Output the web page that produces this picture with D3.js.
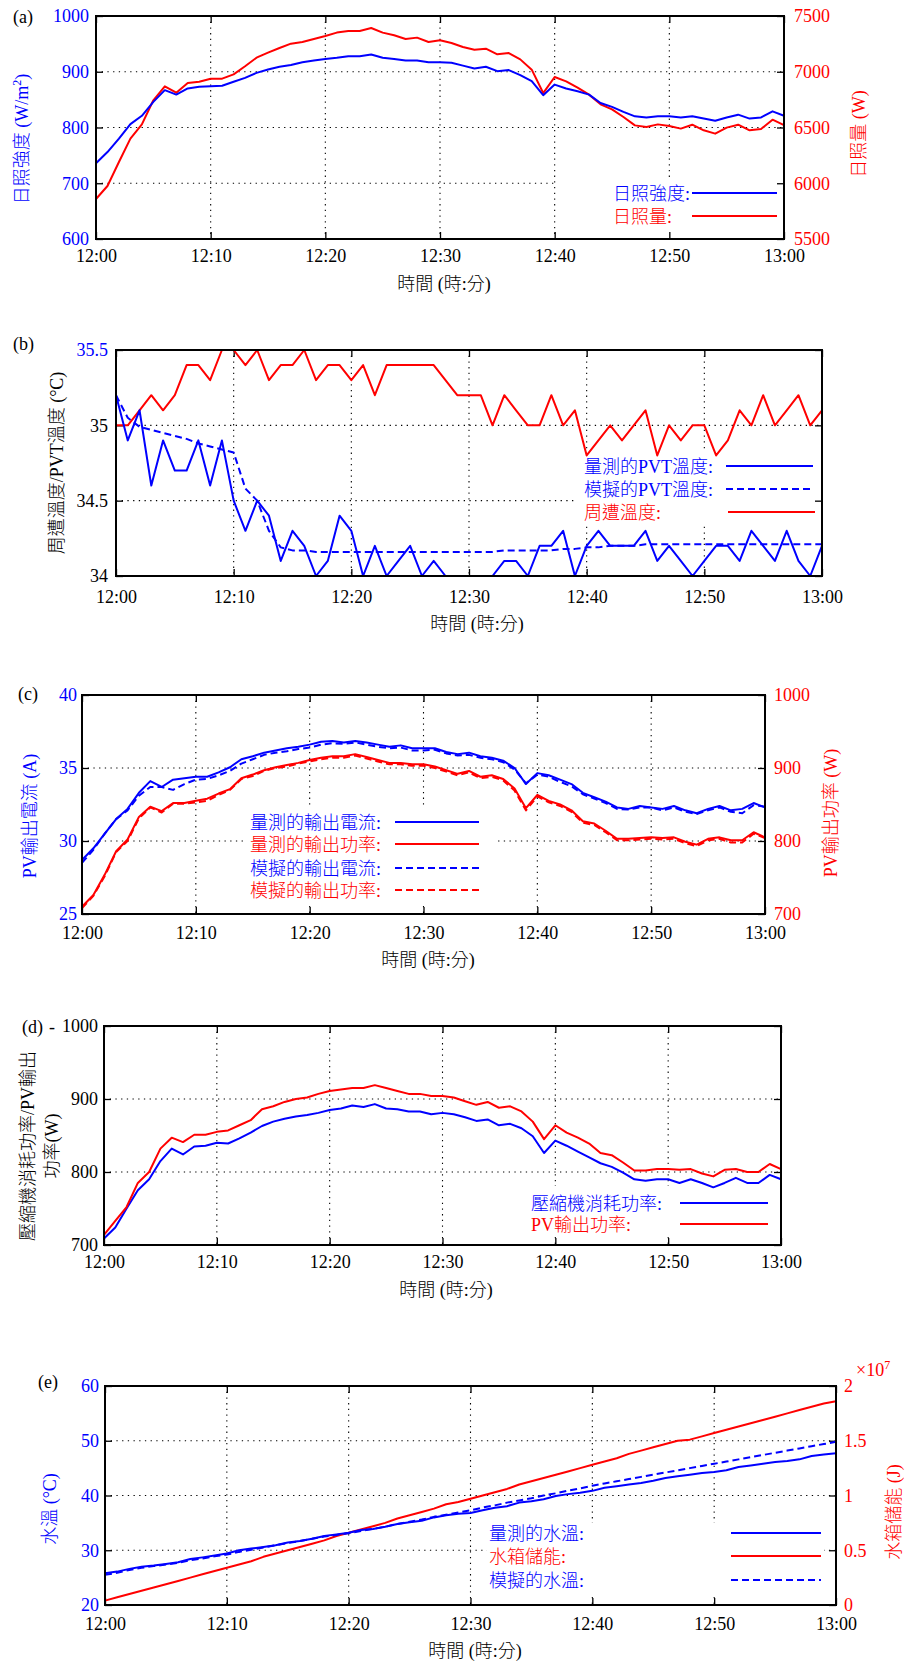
<!DOCTYPE html>
<html><head><meta charset="utf-8">
<script src="https://cdn.jsdelivr.net/npm/d3@7/dist/d3.min.js"></script>
<style>
body{margin:0;background:#fff}
svg text{font-family:"Liberation Serif","Noto Sans CJK TC","Noto Sans CJK SC",serif;font-weight:300;}
</style></head><body>
<svg id="c" width="908" height="1664"></svg>
<script>
// ---------- data ----------
const minutes = d3.range(0, 61);
const timeTickValues = [0, 10, 20, 30, 40, 50, 60];
const timeTickLabels = ["12:00","12:10","12:20","12:30","12:40","12:50","13:00"];

// (a)
const irradiance = [736,756,780,806,821,846,867,859,870,873,874,875,882,889,898,904,909,912,917,920,923,925,928,928,931,925,923,920,920,917,917,916,911,906,909,901,903,894,883,858,877,870,865,859,844,837,828,820,818,820,820,818,820,816,812,818,823,816,818,829,821];
const insolation = [5859,5975,6191,6400,6528,6744,6869,6812,6899,6911,6938,6938,6977,7049,7126,7171,7213,7252,7267,7294,7321,7351,7365,7365,7392,7351,7327,7294,7306,7267,7282,7258,7222,7198,7207,7156,7168,7111,7019,6809,6953,6914,6857,6794,6708,6663,6594,6519,6504,6528,6513,6490,6525,6475,6445,6499,6525,6475,6487,6570,6522];
const aLeftTicks = [600,700,800,900,1000];
const aRightTicks = [5500,6000,6500,7000,7500];

// (b)
const ambientTemp = [35.0,35.0,35.1,35.2,35.1,35.2,35.4,35.4,35.3,35.5, 35.5,35.4,35.5,35.3,35.4,35.4,35.5,35.3,35.4,35.4, 35.3,35.4,35.2,35.4,35.4,35.4,35.4,35.4,35.3,35.2, 35.2,35.2,35.0,35.2,35.1,35.0,35.0,35.2,35.0,35.1, 34.8,34.9,35.0,34.9,35.0,35.1,34.8,35.0,34.9,35.0, 35.0,34.8,34.9,35.1,35.0,35.2,35.0,35.1,35.2,35.0,35.1];
const pvtMeasured = [35.2,34.9,35.1,34.6,34.9,34.7,34.7,34.9,34.6,34.9, 34.5,34.3,34.5,34.4,34.1,34.3,34.2,34.0,34.1,34.4, 34.3,34.0,34.2,34.0,34.1,34.2,34.0,34.1,34.0,34.0, 34.0,34.0,34.0,34.1,34.1,34.0,34.2,34.2,34.3,34.0, 34.2,34.3,34.2,34.2,34.2,34.3,34.1,34.2,34.1,34.0, 34.1,34.2,34.2,34.1,34.3,34.2,34.1,34.3,34.1,34.0,34.2];
const pvtSimulated = [35.2,35.05,34.99,34.97,34.95,34.93,34.91,34.88,34.86,34.84, 34.82,34.58,34.5,34.3,34.19,34.17,34.17,34.16,34.16,34.16, 34.16,34.16,34.16,34.16,34.16,34.16,34.16,34.16,34.16,34.16, 34.16,34.16,34.16,34.17,34.17,34.17,34.17,34.17,34.18,34.18, 34.19,34.19,34.2,34.2,34.2,34.21,34.21,34.21,34.21,34.21, 34.21,34.21,34.21,34.21,34.21,34.21,34.21,34.21,34.21,34.21,34.21];
const bTicks = [34, 34.5, 35, 35.5];

// (c)
const currentMeasured = [28.7,29.5,30.5,31.5,32.2,33.3,34.1,33.7,34.2,34.3, 34.4,34.4,34.7,35.05,35.6,35.8,36.05,36.2,36.35,36.45, 36.6,36.8,36.85,36.75,36.85,36.75,36.6,36.45,36.55,36.35, 36.35,36.35,36.1,35.95,36.05,35.8,35.7,35.5,35.0,33.9, 34.65,34.5,34.2,33.9,33.3,33.0,32.7,32.3,32.2,32.4, 32.3,32.2,32.4,32.1,31.9,32.2,32.4,32.1,32.2,32.6,32.3];
const currentSimulated = [28.5,29.4,30.5,31.5,32.1,33.1,33.7,33.7,33.5,33.9, 34.2,34.25,34.5,34.8,35.3,35.6,35.9,36.05,36.15,36.3, 36.4,36.6,36.7,36.65,36.75,36.6,36.45,36.35,36.4,36.2, 36.2,36.25,36.0,35.85,35.9,35.7,35.6,35.4,34.9,33.95, 34.55,34.4,34.05,33.75,33.2,32.9,32.6,32.2,32.15,32.3, 32.3,32.1,32.3,32.0,31.85,32.1,32.3,32.0,31.9,32.45,32.35];
const powerMeasured = [710,726,754,786,802,833,847,841,852,852, 855,858,865,871,886,891,897,901,904,907, 911,914,916,916,919,915,911,907,907,905, 905,902,897,892,896,888,890,885,872,845, 863,855,850,842,827,824,814,803,803,804, 805,804,805,799,795,803,805,801,801,812,805];
const powerSimulated = [708,725,752,785,800,831,846,839,851,851, 853,855,863,870,885,889,896,900,902,906, 909,912,914,914,917,913,909,905,905,903, 903,900,895,890,894,886,888,883,869,842, 861,853,848,840,825,822,812,801,801,802, 803,802,803,797,793,801,803,798,798,810,804];
const cLeftTicks = [25,30,35,40];
const cRightTicks = [700,800,900,1000];

// (d)
const pvPower = [714,733,752,785,800,832,847,841,851,851, 855,857,864,871,886,890,896,900,902,907, 911,913,915,915,919,915,911,907,907,904, 904,902,897,892,896,888,890,883,869,845, 864,854,847,839,826,823,813,802,802,804, 804,803,804,798,794,803,804,800,800,811,804];
const compressorPower = [709,724,750,775,790,815,832,824,835,836, 840,839,846,854,863,869,873,876,878,881, 885,887,891,889,893,887,886,883,883,879, 881,879,875,870,872,864,866,860,849,826, 843,836,828,820,812,807,799,790,788,790, 790,785,790,785,779,785,792,785,785,796,790];
const dTicks = [700,800,900,1000];

// (e)
const waterMeasured = [25.8,26.1,26.6,27.0,27.2,27.5,27.8,28.4,28.7,29.05, 29.4,30.0,30.3,30.6,30.9,31.4,31.7,32.1,32.6,32.9, 33.2,33.7,33.9,34.3,34.8,35.1,35.4,36.0,36.4,36.65, 36.8,37.3,37.75,38.05,38.7,38.95,39.3,39.9,40.25,40.5, 40.85,41.4,41.7,42.0,42.3,42.7,43.2,43.5,43.8,44.1, 44.3,44.6,45.2,45.5,45.8,46.1,46.3,46.6,47.2,47.5,47.7];
const waterSimulated = [25.5,25.9,26.4,26.8,27.1,27.4,27.7,28.2,28.5,28.9, 29.2,29.7,30.1,30.5,30.9,31.3,31.7,32.1,32.5,32.8, 33.1,33.5,33.9,34.3,34.8,35.2,35.6,36.1,36.5,36.9, 37.3,37.8,38.2,38.7,39.1,39.5,40.0,40.4,40.9,41.3, 41.8,42.2,42.6,43.0,43.4,43.8,44.2,44.6,45.0,45.4, 45.8,46.2,46.6,47.0,47.4,47.8,48.2,48.6,49.0,49.4,49.8];
const tankEnergy = [0.04,0.07,0.10,0.13,0.16,0.19,0.22,0.25,0.28,0.31, 0.34,0.37,0.40,0.44,0.47,0.50,0.53,0.56,0.59,0.63, 0.66,0.69,0.72,0.75,0.79,0.82,0.85,0.88,0.92,0.94, 0.97,1.00,1.03,1.06,1.10,1.13,1.16,1.19,1.22,1.25, 1.28,1.31,1.34,1.38,1.41,1.44,1.47,1.50,1.51,1.54, 1.57,1.60,1.63,1.66,1.69,1.72,1.75,1.78,1.81,1.84,1.86];
const eLeftTicks = [20,30,40,50,60];
const eRightTicks = [0,0.5,1,1.5,2];

// ---------- drawing ----------
const BLUE = "#0000ff", RED = "#ff0000", FS = 18;
const svg = d3.select("#c");
svg.append("rect").attr("width",908).attr("height",1664).attr("fill","#fff");

function panel(cfg){
  const g = svg.append("g");
  const x = d3.scaleLinear().domain([0,60]).range([cfg.l, cfg.r]);
  const yL = d3.scaleLinear().domain(cfg.left.domain).range([cfg.b, cfg.t]);
  const yR = cfg.right ? d3.scaleLinear().domain(cfg.right.domain).range([cfg.b, cfg.t]) : yL;

  const grid = g.append("g").attr("stroke","#000").attr("stroke-width",1.1).attr("stroke-dasharray","1.3,4.4");
  grid.selectAll("line.v").data(timeTickValues.slice(1,-1)).join("line")
    .attr("x1",d=>x(d)).attr("x2",d=>x(d)).attr("y1",cfg.t).attr("y2",cfg.b);
  grid.selectAll("line.h").data(cfg.left.ticks.slice(1,-1)).join("line")
    .attr("x1",cfg.l).attr("x2",cfg.r).attr("y1",d=>yL(d)).attr("y2",d=>yL(d));

  const lb = cfg.legendBox;
  g.append("rect").attr("x",lb[0]).attr("y",lb[1]).attr("width",lb[2]-lb[0]).attr("height",lb[3]-lb[1]).attr("fill","#fff");

  function style(sel, colorFn){
    sel.attr("font-size",FS).attr("font-family","Liberation Serif, serif").attr("color","#000");
    sel.select(".domain").remove();
    sel.selectAll(".tick line").attr("stroke","#000").attr("stroke-width",1.3);
    sel.selectAll(".tick text").attr("fill", colorFn || "#000");
  }
  const bottom = g.append("g").attr("transform",`translate(0,${cfg.b})`)
    .call(d3.axisBottom(x).tickValues(timeTickValues).tickFormat((d,i)=>timeTickLabels[i]).tickSizeInner(-7).tickSizeOuter(0).tickPadding(cfg.xPad));
  style(bottom);
  const top = g.append("g").attr("transform",`translate(0,${cfg.t})`)
    .call(d3.axisTop(x).tickValues(timeTickValues).tickFormat("").tickSizeInner(-7).tickSizeOuter(0));
  style(top);
  const left = g.append("g").attr("transform",`translate(${cfg.l},0)`)
    .call(d3.axisLeft(yL).tickValues(cfg.left.ticks).tickFormat(d=>String(d)).tickSizeInner(-7).tickSizeOuter(0).tickPadding(cfg.left.pad));
  style(left, cfg.left.color);
  const rAxis = d3.axisRight(yR).tickValues(cfg.right ? cfg.right.ticks : cfg.left.ticks).tickSizeInner(-7).tickSizeOuter(0);
  if (cfg.right) rAxis.tickFormat(d=>String(d)).tickPadding(cfg.right.pad); else rAxis.tickFormat("");
  const right = g.append("g").attr("transform",`translate(${cfg.r},0)`).call(rAxis);
  style(right, cfg.right ? cfg.right.color : "#000");

  cfg.series.forEach(s=>{
    const sc = s.axis === "right" ? yR : yL;
    g.append("path").datum(s.values)
      .attr("fill","none").attr("stroke",s.color).attr("stroke-width",2)
      .attr("stroke-linejoin","round")
      .attr("stroke-dasharray", s.dash ? "7,4" : null)
      .attr("d", d3.line().x((d,i)=>x(minutes[i])).y(d=>sc(d)));
  });

  g.append("rect").attr("x",cfg.l).attr("y",cfg.t).attr("width",cfg.r-cfg.l).attr("height",cfg.b-cfg.t)
    .attr("fill","none").attr("stroke","#000").attr("stroke-width",2);

  g.append("text").attr("x",cfg.xTitle[0]).attr("y",cfg.xTitle[1]).attr("text-anchor","middle")
    .attr("font-size",FS).attr("fill","#000").text("時間 (時:分)");

  cfg.yTitles.forEach(t=>{
    const tx = g.append("text").attr("transform",`translate(${t.x},${t.y}) rotate(-90)`)
      .attr("text-anchor","middle").attr("dy","0.35em").attr("font-size",FS).attr("fill",t.color);
    t.parts.forEach(p=>{
      const ts = tx.append("tspan").text(p.t);
      if (p.sup) ts.attr("font-size",12).attr("dy",-7);
      if (p.after) ts.attr("dy",7);
    });
  });

  g.append("text").attr("x",cfg.letter[0]).attr("y",cfg.letter[1]).attr("font-size",FS).attr("fill","#000").text(cfg.letter[2]);

  const L = cfg.legend;
  L.rows.forEach(r=>{
    g.append("text").attr("x",L.tx).attr("y",r.y+6.5).attr("font-size",FS).attr("fill",r.color).text(r.label);
    g.append("line").attr("x1",r.x1 || L.x1).attr("x2",r.x2 || L.x2).attr("y1",r.y).attr("y2",r.y)
      .attr("stroke",r.color).attr("stroke-width",2).attr("stroke-dasharray",r.dash ? "7,4" : null);
  });
  return g;
}

panel({
  l:96, r:784, t:16, b:239, xPad:10,
  left:{domain:[600,1000], ticks:aLeftTicks, pad:7, color:BLUE},
  right:{domain:[5500,7500], ticks:aRightTicks, pad:10, color:RED},
  series:[{values:insolation, color:RED, axis:"right"},{values:irradiance, color:BLUE}],
  legendBox:[556,178,782,236],
  xTitle:[444,290],
  yTitles:[{x:22,y:139,color:BLUE,parts:[{t:"日照強度 (W/m"},{t:"2",sup:true},{t:")",after:true}]},
           {x:859,y:134,color:RED,parts:[{t:"日照量 (W)"}]}],
  letter:[13,23,"(a)"],
  legend:{tx:613, x1:692, x2:777, rows:[{label:"日照強度:",color:BLUE,y:193},{label:"日照量:",color:RED,y:216}]}
});

panel({
  l:116, r:822, t:350, b:576, xPad:14,
  left:{domain:[34,35.5], ticks:bTicks, pad:8, color:d=>d===35.5?BLUE:"#000"},
  right:null,
  series:[{values:ambientTemp,color:RED},{values:pvtSimulated,color:BLUE,dash:true},{values:pvtMeasured,color:BLUE}],
  legendBox:[575,452,820,523],
  xTitle:[477,630],
  yTitles:[{x:57,y:463,color:"#000",parts:[{t:"周遭溫度/PVT溫度 (°C)"}]}],
  letter:[13,350,"(b)"],
  legend:{tx:584, x1:726, x2:813, rows:[
    {label:"量測的PVT溫度:",color:BLUE,y:466},
    {label:"模擬的PVT溫度:",color:BLUE,y:489,dash:true},
    {label:"周遭溫度:",color:RED,y:512,x1:728,x2:815}]}
});

panel({
  l:82, r:765, t:695, b:914, xPad:12,
  left:{domain:[25,40], ticks:cLeftTicks, pad:5, color:BLUE},
  right:{domain:[700,1000], ticks:cRightTicks, pad:9, color:RED},
  series:[{values:powerSimulated,color:RED,axis:"right",dash:true},{values:powerMeasured,color:RED,axis:"right"},
          {values:currentSimulated,color:BLUE,dash:true},{values:currentMeasured,color:BLUE}],
  legendBox:[243,807,497,905],
  xTitle:[428,966],
  yTitles:[{x:30,y:816,color:BLUE,parts:[{t:"PV輸出電流 (A)"}]},{x:831,y:813,color:RED,parts:[{t:"PV輸出功率 (W)"}]}],
  letter:[18,700,"(c)"],
  legend:{tx:250, x1:395, x2:479, rows:[
    {label:"量測的輸出電流:",color:BLUE,y:822},
    {label:"量測的輸出功率:",color:RED,y:844},
    {label:"模擬的輸出電流:",color:BLUE,y:868,dash:true},
    {label:"模擬的輸出功率:",color:RED,y:890,dash:true}]}
});

const gd = panel({
  l:104, r:781, t:1026, b:1245, xPad:10,
  left:{domain:[700,1000], ticks:dTicks, pad:6, color:"#000"},
  right:null,
  series:[{values:compressorPower,color:BLUE},{values:pvPower,color:RED}],
  legendBox:[527,1186,779,1237],
  xTitle:[446,1296],
  yTitles:[{x:28,y:1146,color:"#000",parts:[{t:"壓縮機消耗功率/PV輸出"}]},{x:52,y:1146,color:"#000",parts:[{t:"功率(W)"}]}],
  letter:[22,1033,"(d)"],
  legend:{tx:531, x1:680, x2:768, rows:[
    {label:"壓縮機消耗功率:",color:BLUE,y:1203},
    {label:"PV輸出功率:",color:RED,y:1224}]}
});
gd.append("text").attr("x",49).attr("y",1033).attr("font-size",FS).attr("fill","#000").text("-");

const ge = panel({
  l:105, r:836, t:1386, b:1605, xPad:12,
  left:{domain:[20,60], ticks:eLeftTicks, pad:6, color:BLUE},
  right:{domain:[0,2], ticks:eRightTicks, pad:8, color:RED},
  series:[{values:tankEnergy,color:RED,axis:"right"},{values:waterMeasured,color:BLUE},{values:waterSimulated,color:BLUE,dash:true}],
  legendBox:[487,1523,824,1596],
  xTitle:[475,1657],
  yTitles:[{x:50,y:1509,color:BLUE,parts:[{t:"水溫 (°C)"}]},{x:894,y:1512,color:RED,parts:[{t:"水箱儲能 (J)"}]}],
  letter:[38,1388,"(e)"],
  legend:{tx:489, x1:731, x2:821, rows:[
    {label:"量測的水溫:",color:BLUE,y:1533},
    {label:"水箱儲能:",color:RED,y:1556},
    {label:"模擬的水溫:",color:BLUE,y:1580,dash:true}]}
});
const ex = ge.append("text").attr("x",856).attr("y",1376).attr("font-size",FS).attr("fill",RED);
ex.append("tspan").text("×10");
ex.append("tspan").attr("font-size",12).attr("dy",-7).text("7");
</script>
</body></html>
